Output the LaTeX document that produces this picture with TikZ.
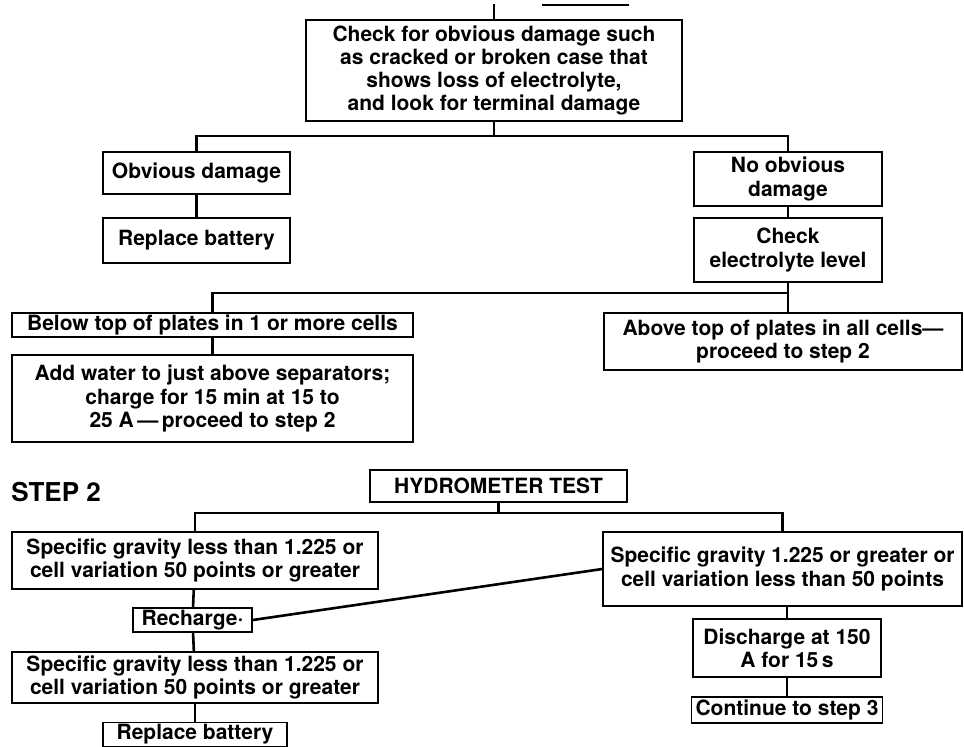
\documentclass[tikz,border=0pt]{standalone}
\usepackage{fontspec}
\setmainfont{TeX Gyre Heros}
\usepackage{tikz}
\usetikzlibrary{positioning, calc}
\tikzset{
    stepbox/.style={
        rectangle, draw, line width=0.8pt,
        inner xsep=2pt, inner ysep=1pt,
        align=center, font=\fontsize{10.5}{11.6}\selectfont\bfseries
    },
    link/.style={
        line width=1.3pt, draw=black
    },
    steptitle/.style={
        font=\fontsize{13}{15}\selectfont\bfseries, inner sep=0pt
    }
}
\begin{document}
\begin{tikzpicture}[x=0.5pt, y=-0.5pt]
    \useasboundingbox (0,0) rectangle (964,746);

    % step 1: visual check
    \node[stepbox, minimum width=188pt, minimum height=50.5pt] (check) at (494,70.5)
        {Check for obvious damage such\\as cracked or broken case that\\shows loss of electrolyte,\\and look for terminal damage};
    \node[stepbox, minimum width=93.5pt, minimum height=21pt] (obv) at (196.5,173) {Obvious damage};
    \node[stepbox, minimum width=93.5pt, minimum height=22.5pt] (repl1) at (196.5,240.5) {Replace battery};
    \node[stepbox, minimum width=94pt, minimum height=27pt] (noobv) at (788,179) {No obvious\\damage};
    \node[stepbox, minimum width=94pt, minimum height=32pt] (checkel) at (788,250) {Check\\electrolyte level};
    \node[stepbox, minimum width=200.5pt, minimum height=12pt] (below) at (212.5,325)
        {Below top of plates in 1 or more cells};
    \node[stepbox, minimum width=200.5pt, minimum height=43.5pt] (addw) at (212.5,398.5)
        {Add water to just above separators;\\charge for 15 min at 15 to\\25 A\,---\,proceed to step 2};
    \node[stepbox, minimum width=179pt, minimum height=28.5pt] (above) at (783,341.5)
        {Above top of plates in all cells---\\proceed to step 2};

    \coordinate (feed) at (494,4);
    \coordinate (fragA) at (542,5);
    \coordinate (fragB) at (629,5);
    \draw[link, line width=0.8pt] (fragA) -- (fragB);
    \draw[link] (feed) -- (check);

    \coordinate (b1) at (494,136);
    \draw[link] (check) -- (b1);
    \draw[link] (obv) |- (b1) -| (noobv);
    \draw[link] (obv) -- (repl1);
    \draw[link] (noobv) -- (checkel);

    \coordinate (b2) at (788,293);
    \draw[link] (checkel.south) -- (checkel.south |- above.north);
    \draw[link] (below) |- (b2);
    \draw[link] (below) -- (addw);

    % step 2: hydrometer
    \node[steptitle, anchor=base west] (step2) at (11,501) {STEP 2};
    \node[stepbox, minimum width=128.5pt, minimum height=16pt] (hydro) at (498.5,486) {HYDROMETER TEST};
    \node[stepbox, minimum width=183pt, minimum height=28.5pt] (sg1) at (195,560.5)
        {Specific gravity less than 1.225 or\\cell variation 50 points or greater};
    \node[stepbox, minimum width=59.5pt, minimum height=10pt] (rech) at (192.5,620) {Recharge·};
    \node[stepbox, minimum width=183pt, minimum height=25.5pt] (sg2) at (195,677.5)
        {Specific gravity less than 1.225 or\\cell variation 50 points or greater};
    \node[stepbox, minimum width=92pt, minimum height=10pt] (repl2) at (195,734.5) {Replace battery};
    \node[stepbox, minimum width=179.5pt, minimum height=37pt] (sgr) at (782.5,569)
        {Specific gravity 1.225 or greater or\\cell variation less than 50 points};
    \node[stepbox, minimum width=94pt, minimum height=29pt] (dis) at (787,648) {Discharge at 150\\A for 15\,s};
    \node[stepbox, minimum width=94pt, minimum height=13pt] (cont) at (787,710) {Continue to step 3};

    \coordinate (b3) at (498.5,513);
    \draw[link] (hydro) -- (b3);
    \draw[link] (sg1) |- (b3) -| (sgr);
    \draw[link] (sg1) -- (rech);
    \draw[link] (rech) -- (sg2);
    \draw[link] (sg2) -- (repl2);
    \draw[link] (rech.east) -- (sgr.west);
    \draw[link] (dis.north |- sgr.south) -- (dis);
    \draw[link] (dis) -- (cont);

\end{tikzpicture}
\end{document}
